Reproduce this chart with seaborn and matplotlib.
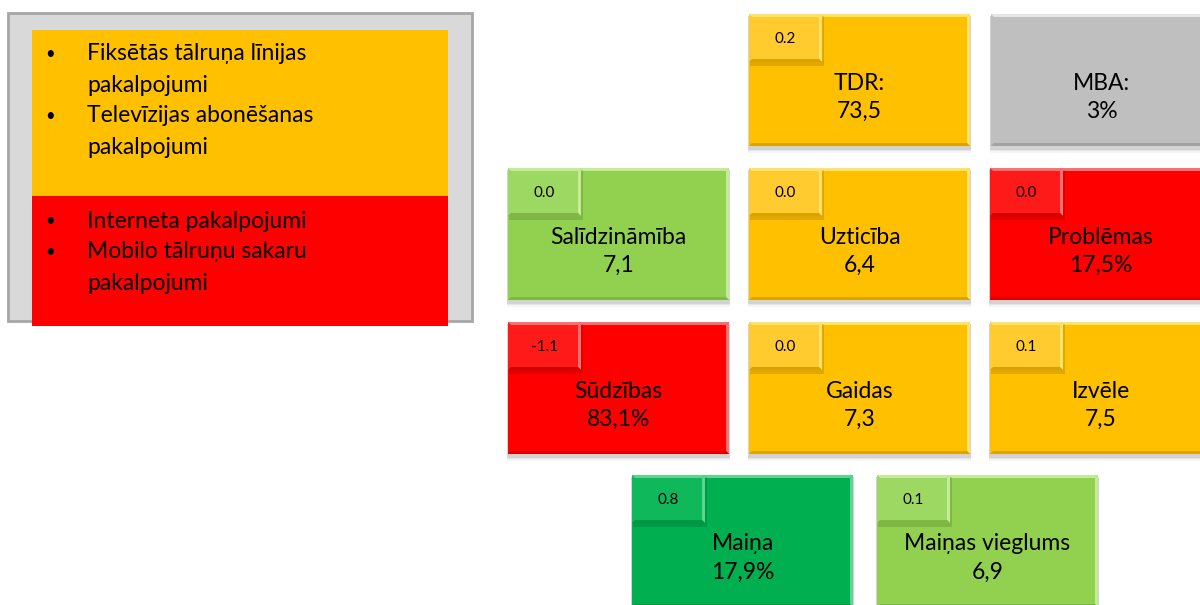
import matplotlib
matplotlib.use("Agg")
import matplotlib.pyplot as plt
from matplotlib.patches import Rectangle, Polygon
import seaborn as sns

# Data
tile_names = ["TDR:", "MBA:", "Salīdzināmība", "Uzticība", "Problēmas",
              "Sūdzības", "Gaidas", "Izvēle", "Maiņa", "Maiņas vieglums"]
tile_values = ["73,5", "3%", "7,1", "6,4", "17,5%", "83,1%", "7,3", "7,5", "17,9%", "6,9"]
tile_deltas = ["0.2", None, "0.0", "0.0", "0.0", "-1.1", "0.0", "0.1", "0.8", "0.1"]
tile_status = ["yellow", "gray", "lightgreen", "yellow", "red",
               "red", "yellow", "yellow", "green", "lightgreen"]

legend_yellow = ["Fiksētās tālruņa līnijas\npakalpojumi", "Televīzijas abonēšanas\npakalpojumi"]
legend_red = ["Interneta pakalpojumi", "Mobilo tālruņu sakaru\npakalpojumi"]

# Layout (pixel positions: left, top)
tile_pos = [(749, 14), (991, 14),
            (508, 168), (749, 168), (990, 168),
            (508, 322), (749, 322), (990, 322),
            (632, 475), (877, 475)]
TW, TH = 221, 132
SW, SH = 73, 48

palette = {"yellow": ("#FFC000", "#FFCB2E", "#FFE36B", "#D9A300"),
           "gray": ("#BFBFBF", "#C8C8C8", "#E6E6E6", "#A3A3A3"),
           "lightgreen": ("#92D050", "#9DD962", "#C3EC95", "#7CB844"),
           "red": ("#FF0000", "#FF1A1A", "#FF7070", "#D60000"),
           "green": ("#00B050", "#10B85C", "#5BD68E", "#009544")}

sns.set_theme(style="white")
plt.rcParams["font.family"] = ["Lato", "DejaVu Sans"]

fig = plt.figure(figsize=(12, 6.05), dpi=100)
ax = fig.add_axes([0, 0, 1, 1])
ax.set_xlim(0, 1200)
ax.set_ylim(605, 0)
ax.axis("off")


def bevel_box(x, y, w, h, fill, light, dark, b=3, z=2):
    ax.add_patch(Rectangle((x, y), w, h, facecolor=fill, edgecolor="none", zorder=z))
    # top / right highlight, bottom shade
    ax.add_patch(Polygon([(x, y), (x + w, y), (x + w - b, y + b), (x + b, y + b)],
                         closed=True, facecolor=light, edgecolor="none", zorder=z + 0.1))
    ax.add_patch(Polygon([(x + w, y), (x + w, y + h), (x + w - b, y + h - b), (x + w - b, y + b)],
                         closed=True, facecolor=light, edgecolor="none", zorder=z + 0.1))
    ax.add_patch(Polygon([(x, y + h), (x + w, y + h), (x + w - b, y + h - b), (x + b, y + h - b)],
                         closed=True, facecolor=dark, edgecolor="none", zorder=z + 0.1))


# Legend panel
ax.add_patch(Rectangle((8, 13), 464, 308, facecolor="#D9D9D9", edgecolor="#A6A6A6",
                       linewidth=2, zorder=1))
ax.add_patch(Rectangle((32, 30), 416, 166, facecolor="#FFC000", edgecolor="none", zorder=2))
ax.add_patch(Rectangle((32, 196), 416, 130, facecolor="#FF0000", edgecolor="none", zorder=2))

line_h = 31
for items, y0 in [(legend_yellow, 54), (legend_red, 221)]:
    y = y0
    for item in items:
        ax.text(50, y, "•", fontsize=12, ha="center", va="center", color="black", zorder=5)
        for line in item.split("\n"):
            ax.text(87, y, line, fontsize=16.5, ha="left", va="center", color="black", zorder=5)
            y += line_h

# Tiles
for name, val, delta, status, (x, y) in zip(tile_names, tile_values, tile_deltas,
                                           tile_status, tile_pos):
    fill, small, light, dark = palette[status]
    for k, a in zip([5, 3, 1.5], [0.08, 0.12, 0.18]):
        ax.add_patch(Rectangle((x - 1, y + 2), TW + 2, TH + k, facecolor="#808080",
                               edgecolor="none", alpha=a, zorder=1.5))
    bevel_box(x, y, TW, TH, fill, light, dark, b=3, z=2)
    ax.text(x + TW / 2, y + 69, name, fontsize=16.5, ha="center", va="center",
            color="black", zorder=5)
    ax.text(x + TW / 2, y + 97, val, fontsize=16.5, ha="center", va="center",
            color="black", zorder=5)
    if delta is not None:
        ax.add_patch(Rectangle((x + 1, y + 2), SW + 1, SH + 2, facecolor="#000000",
                               edgecolor="none", alpha=0.12, zorder=3))
        bevel_box(x, y, SW, SH, small, light, dark, b=3, z=3.5)
        ax.text(x + SW / 2, y + 25, delta, fontsize=11, ha="center", va="center",
                color="black", zorder=6)

fig.savefig("out.png", dpi=100)
